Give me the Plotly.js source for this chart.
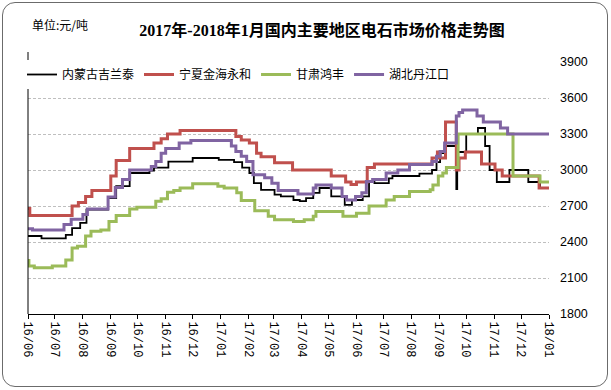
<!DOCTYPE html>
<html>
<head>
<meta charset="utf-8">
<script src="https://cdn.plot.ly/plotly-3.0.1.min.js"></script>
<style>
html,body{margin:0;padding:0;background:#fff;}
#wrap{position:relative;width:611px;height:390px;}
#chart{width:611px;height:390px;}
#frame{position:absolute;left:2px;top:2px;width:604px;height:383px;border:1.5px solid #6b6b6b;border-radius:13px;pointer-events:none;}
</style>
</head>
<body>
<div id="wrap"><div id="chart"></div><div id="frame"></div></div>
<script>
// ---- data ----
const seriesNames = ['内蒙古吉兰泰', '宁夏金海永和', '甘肃鸿丰', '湖北丹江口'];
const seriesColors = ['#000000', '#C0504D', '#9BBB59', '#8064A2'];

const blackDates = ['2016-06-01','2016-06-16','2016-07-13','2016-07-20','2016-07-29','2016-08-05','2016-08-29','2016-09-07','2016-09-22','2016-10-14','2016-10-19','2016-11-04','2016-12-01','2016-12-30','2017-01-16','2017-01-25','2017-02-02','2017-02-07','2017-02-15','2017-03-02','2017-03-09','2017-03-23','2017-03-30','2017-04-06','2017-04-14','2017-04-21','2017-05-04','2017-05-19','2017-05-27','2017-06-08','2017-06-15','2017-06-21','2017-07-07','2017-07-11','2017-08-10','2017-08-24','2017-08-29','2017-09-02','2017-09-07','2017-09-20','2017-09-21','2017-10-01','2017-10-14','2017-10-22','2017-10-27','2017-11-04','2017-11-18','2017-12-09','2017-12-22','2018-01-01'];
const blackValues = [2450,2430,2460,2515,2560,2670,2765,2865,2975,2995,3020,3070,3100,3085,3065,3020,2975,2890,2835,2795,2780,2750,2740,2765,2810,2850,2780,2710,2750,2780,2905,2890,2930,2950,2970,3000,3065,3140,3200,2840,3150,3300,3350,3200,3000,2900,3000,2900,2850,2850];

const redDates = ['2016-06-01','2016-06-03','2016-07-20','2016-07-27','2016-08-04','2016-08-11','2016-09-01','2016-09-07','2016-09-22','2016-10-19','2016-10-27','2016-11-03','2016-11-17','2017-01-18','2017-01-24','2017-02-02','2017-02-10','2017-02-15','2017-03-02','2017-03-22','2017-05-04','2017-05-20','2017-05-26','2017-06-01','2017-06-13','2017-06-21','2017-08-24','2017-08-30','2017-09-02','2017-09-08','2017-09-20','2017-09-23','2017-09-30','2017-10-18','2017-11-02','2017-11-10','2017-12-21','2018-01-01'];
const redValues = [2680,2620,2700,2730,2780,2830,2950,3080,3180,3225,3260,3300,3330,3280,3250,3225,3140,3110,3060,3000,2950,2900,2880,2900,3020,3050,3100,3150,3100,3400,3000,3100,3150,3050,3000,2950,2850,2850];

const greenDates = ['2016-06-01','2016-06-02','2016-06-08','2016-06-28','2016-07-13','2016-07-20','2016-07-26','2016-08-04','2016-08-10','2016-08-21','2016-08-30','2016-09-07','2016-09-22','2016-09-30','2016-10-21','2016-10-27','2016-11-03','2016-11-10','2016-11-17','2016-12-01','2016-12-29','2017-01-05','2017-01-19','2017-01-24','2017-02-08','2017-02-23','2017-03-02','2017-03-23','2017-04-04','2017-04-14','2017-04-17','2017-05-17','2017-06-01','2017-06-15','2017-07-04','2017-07-13','2017-07-30','2017-08-22','2017-08-25','2017-08-31','2017-09-05','2017-09-09','2017-09-22','2017-11-22','2017-12-22','2018-01-01'];
const greenValues = [2245,2200,2185,2200,2250,2350,2365,2450,2490,2500,2570,2620,2675,2690,2740,2760,2815,2830,2850,2885,2865,2850,2810,2745,2660,2615,2585,2570,2585,2615,2655,2615,2640,2700,2750,2780,2820,2835,2875,2950,2975,3020,3300,2950,2900,2900];

const purpleDates = ['2016-06-01','2016-06-06','2016-07-11','2016-07-19','2016-08-01','2016-08-06','2016-08-29','2016-09-06','2016-09-14','2016-09-22','2016-10-16','2016-10-21','2016-10-27','2016-11-01','2016-11-16','2016-11-29','2017-01-13','2017-01-18','2017-01-24','2017-01-30','2017-02-06','2017-02-19','2017-02-27','2017-03-06','2017-03-28','2017-04-14','2017-04-17','2017-05-04','2017-05-16','2017-05-21','2017-05-31','2017-06-07','2017-06-12','2017-06-19','2017-07-04','2017-07-17','2017-07-30','2017-08-24','2017-08-29','2017-09-02','2017-09-07','2017-09-20','2017-09-23','2017-09-27','2017-10-13','2017-10-20','2017-11-08','2017-11-16','2018-01-01'];
const purpleValues = [2510,2500,2545,2590,2630,2675,2775,2855,2920,3000,3030,3070,3140,3180,3225,3245,3200,3155,3115,3070,2960,2935,2890,2830,2800,2850,2875,2850,2780,2750,2780,2810,2905,2920,2975,3000,3045,3070,3115,3155,3225,3450,3480,3500,3450,3400,3350,3300,3300];

const xTickVals = ['2016-06-01','2016-07-01','2016-08-01','2016-09-01','2016-10-01','2016-11-01','2016-12-01','2017-01-01','2017-02-01','2017-03-01','2017-04-01','2017-05-01','2017-06-01','2017-07-01','2017-08-01','2017-09-01','2017-10-01','2017-11-01','2017-12-01','2018-01-01'];
const xTickText = ['16/06','16/07','16/08','16/09','16/10','16/11','16/12','17/01','17/02','17/03','17/04','17/05','17/06','17/07','17/08','17/09','17/10','17/11','17/12','18/01'];
const yTickVals = [1800,2100,2400,2700,3000,3300,3600,3900];

const titleText = '2017年-2018年1月国内主要地区电石市场价格走势图';
const unitText = '单位:元/吨';

// ---- chart ----
const allDates = [blackDates, redDates, greenDates, purpleDates];
const allValues = [blackValues, redValues, greenValues, purpleValues];
const widths = [1.8, 3, 3, 3];

const traces = seriesNames.map((n, i) => ({
  type: 'scatter', mode: 'lines', name: n,
  x: allDates[i], y: allValues[i],
  line: {color: seriesColors[i], width: widths[i], shape: 'hv'},
  hoverinfo: 'x+y+name'
}));

const cjk = '"Noto Sans CJK SC", "Noto Sans", sans-serif';
// plot area: left 28, right 549, top 62, bottom 314
const PL = 28, PW = 521, PT = 62, PH = 252;

const layout = {
  width: 611, height: 390,
  margin: {l: PL, r: 611 - PL - PW, t: PT, b: 390 - PT - PH, autoexpand: false},
  paper_bgcolor: '#ffffff', plot_bgcolor: '#ffffff',
  showlegend: true,
  title: {
    text: '<b>' + titleText + '</b>',
    x: 322/611, xanchor: 'center', xref: 'container',
    y: 1 - 30/390, yanchor: 'middle', yref: 'container',
    font: {size: 16, color: '#000000', family: '"Liberation Serif", "Noto Sans CJK SC", serif'}
  },
  xaxis: {
    type: 'date',
    range: ['2016-06-01', '2018-01-01'],
    tickvals: xTickVals, ticktext: xTickText,
    tickangle: 90,
    tickfont: {size: 12, family: '"Liberation Mono", monospace', color: '#000000'},
    ticks: 'outside', ticklen: 4, tickcolor: '#000000', tickwidth: 1,
    showline: true, linecolor: '#000000', linewidth: 1,
    showgrid: false, zeroline: false, automargin: false, fixedrange: true
  },
  yaxis: {
    side: 'right',
    range: [1800, 3900],
    tickvals: yTickVals,
    tickfont: {size: 12.5, family: '"Liberation Sans", Arial, sans-serif', color: '#000000'},
    ticks: '', ticklabelstandoff: 10,
    showline: false,
    showgrid: true, gridcolor: '#bfbfbf', gridwidth: 1, griddash: '3px,2px',
    zeroline: false, automargin: false, fixedrange: true
  },
  legend: {
    orientation: 'h',
    x: (22 - PL) / PW, xanchor: 'left',
    y: (PT + PH - 60) / PH, yanchor: 'top',
    bgcolor: '#ffffff', borderwidth: 0,
    itemwidth: 30,
    font: {size: 12, family: cjk, color: '#000000'},
    traceorder: 'normal'
  },
  annotations: [{
    text: unitText, showarrow: false,
    xref: 'paper', yref: 'paper',
    x: (30 - PL) / PW, xanchor: 'left',
    y: (PT + PH - 24) / PH, yanchor: 'middle',
    font: {size: 12, family: cjk, color: '#000000'}
  }],
  shapes: [{
    type: 'line', xref: 'paper', yref: 'paper',
    x0: 0, x1: 0, y0: 0, y1: (PT + PH - 52) / PH,
    line: {color: '#000000', width: 1}
  }]
};

Plotly.newPlot('chart', traces, layout, {displayModeBar: false, staticPlot: true});
</script>
</body>
</html>
